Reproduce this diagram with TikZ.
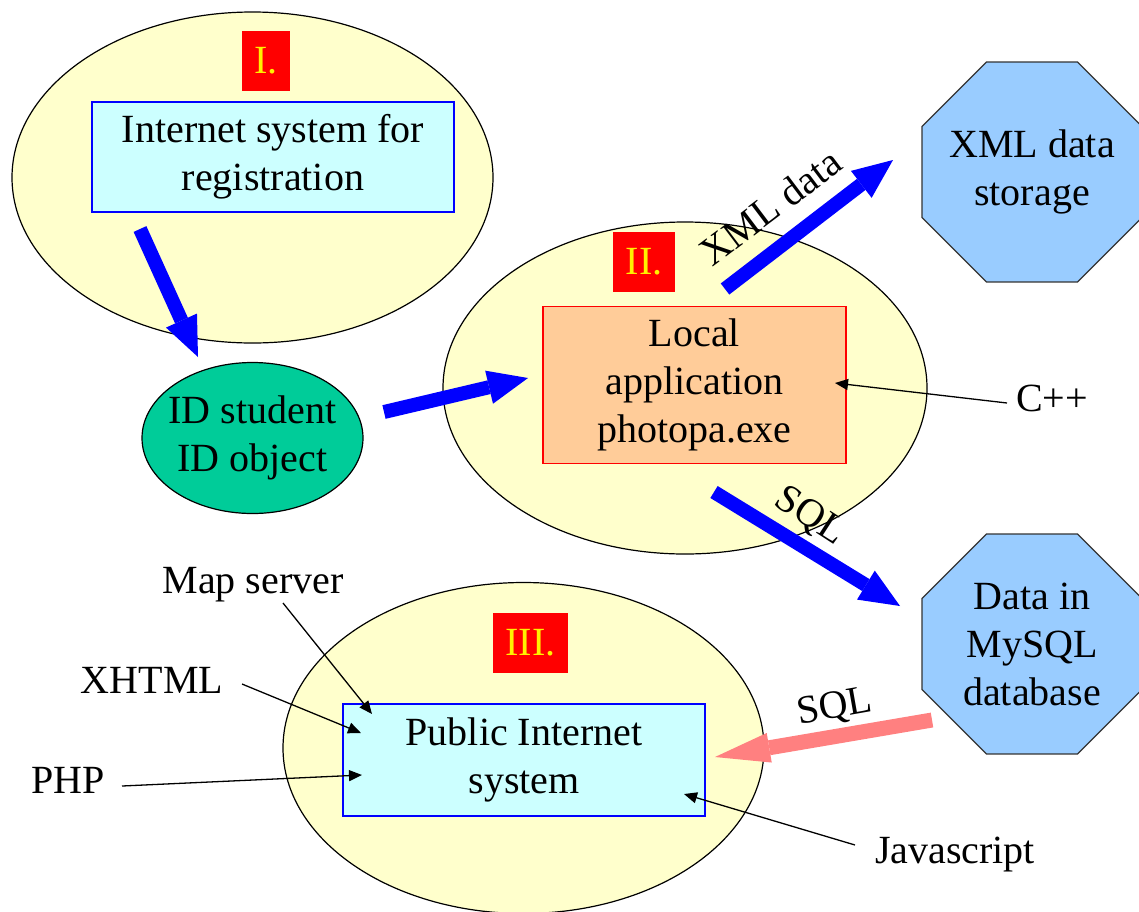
\documentclass[tikz,border=0pt]{standalone}
\usepackage{fontspec}
\setmainfont{Liberation Serif}
\usetikzlibrary{shapes.geometric,arrows.meta}
\definecolor{ellfill}{HTML}{FFFFCC}
\definecolor{cyanbox}{HTML}{CCFFFF}
\definecolor{orangebox}{HTML}{FFCC99}
\definecolor{octfill}{HTML}{99CCFF}
\definecolor{idgreen}{HTML}{00CC99}
\definecolor{pinkarrow}{HTML}{FF8080}
\definecolor{pblue}{HTML}{0000FF}
\begin{document}
\begin{tikzpicture}[x=1pt,y=-1pt,
  every node/.style={font=\fontsize{40}{48}\selectfont},
  zone/.style={ellipse, draw=black, line width=1.2pt, fill=ellfill, minimum width=481pt, minimum height=331pt, inner sep=0pt},
  cbox/.style={draw=pblue, line width=1.5pt, fill=cyanbox, align=center, inner sep=0pt},
  obox/.style={draw=red, line width=1.5pt, fill=orangebox, align=center, inner sep=0pt},
  octo/.style={regular polygon, regular polygon sides=8, draw=black!80, line width=1.2pt, fill=octfill, minimum size=238pt, inner sep=-8pt, align=center},
  rlabel/.style={fill=red, text=yellow, minimum height=60pt, inner sep=0pt},
  bigarrow/.style={pblue, line width=14pt, -{Triangle[width=34pt,length=40pt,line width=0pt]}},
  pinkbig/.style={pinkarrow, line width=15pt, -{Triangle[width=30pt,length=55pt,line width=0pt]}},
  thinarrow/.style={black, line width=1.3pt, -{Triangle[width=11pt,length=13pt]}},
  lbl/.style={anchor=base, inner sep=0pt}]
\useasboundingbox (0,0) rectangle (1139,911);

% zone I
\node[zone] (zoneI) at (252.5,177.5) {};
\node[rlabel, minimum width=48pt] (rI) at (266,61) {I.};
\node[cbox, minimum width=362pt, minimum height=110pt] (regbox) at (273,157) {Internet system for\\registration};

% ID ellipse
\node[ellipse, draw=black, line width=1.2pt, fill=idgreen, minimum width=221pt, minimum height=151pt, inner xsep=-6.5pt, inner ysep=0pt, align=center] (idobj) at (252.5,438) {ID student\\ID object};

% zone II
\node[zone, minimum width=484pt, minimum height=332pt] (zoneII) at (685,388) {};
\node[rlabel, minimum width=62pt] (rII) at (644,262) {II.};
\node[obox, minimum width=303pt, minimum height=157pt] (localapp) at (694.5,385) {Local\\application\\photopa.exe};

% octagons
\node[octo] (xmlstore) at (1032,172) {XML data\\storage};
\node[octo] (mysql) at (1032,644) {Data in\\MySQL\\database};

% zone III
\node[zone] (zoneIII) at (523.5,748) {};
\node[rlabel, minimum width=75pt] (rIII) at (530.5,643) {III.};
\node[cbox, minimum width=362pt, minimum height=112pt] (pubbox) at (524,760) {Public Internet\\system};

% big arrow endpoints
\coordinate (a1s) at (140,229);
\coordinate (a1e) at (198,357);
\coordinate (a2s) at (384,412);
\coordinate (a2e) at (528,378);
\coordinate (a3s) at (725,289);
\coordinate (a3e) at (893,160);
\coordinate (a4s) at (714,492);
\coordinate (a4e) at (900,606);
\coordinate (a5s) at (932,720);
\coordinate (a5e) at (715,757);

\draw[bigarrow] (a1s) -- (a1e);
\draw[bigarrow] (a2s) -- (a2e);
\draw[bigarrow] (a3s) -- (a3e);
\draw[bigarrow] (a4s) -- (a4e);
\draw[pinkbig] (a5s) -- (a5e);

% arrow labels
\node[rotate=37] (xmllbl) at (770,207) {XML data};
\node[rotate=-33] (sqlup) at (810,517) {SQL};
\node[rotate=10] (sqldown) at (835,708) {SQL};

% side labels
\node[lbl] (cpp) at (1052,411) {C++};
\node[lbl] (mapsrv) at (253,593) {Map server};
\node[lbl] (xhtml) at (152,693) {XHTML};
\node[lbl] (php) at (68,793) {PHP};
\node[lbl] (js) at (955,863) {Javascript};

% thin arrows
\coordinate (cpps) at (1007,403);
\coordinate (cppe) at (835,383);
\coordinate (maps) at (283,603);
\coordinate (mape) at (372,714);
\coordinate (xhs) at (242,684);
\coordinate (xhe) at (361,733);
\coordinate (phps) at (122,786);
\coordinate (phpe) at (362,775);
\coordinate (jss) at (855,845);
\coordinate (jse) at (684,794);

\draw[thinarrow] (cpps) -- (cppe);
\draw[thinarrow] (maps) -- (mape);
\draw[thinarrow] (xhs) -- (xhe);
\draw[thinarrow] (phps) -- (phpe);
\draw[thinarrow] (jss) -- (jse);
\end{tikzpicture}
\end{document}
